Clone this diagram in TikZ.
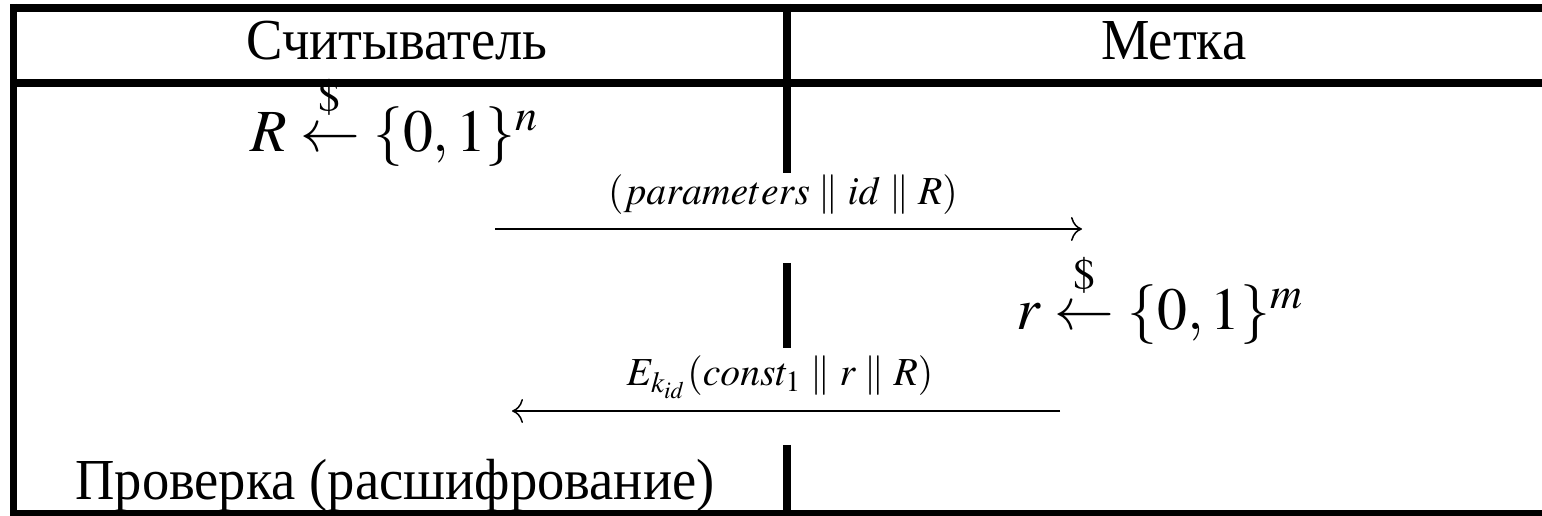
\documentclass[tikz,border=0pt]{standalone}
\usepackage{mathptmx}
\usepackage{fontspec}
\setmainfont[FakeStretch=0.94]{Liberation Serif}
\usetikzlibrary{arrows.meta}
\newcommand{\rnd}{\mathrel{\stackrel{\raisebox{0.25ex}{$\scriptstyle\$$}}{\leftarrow}}}
\begin{document}
\begin{tikzpicture}[x=0.01cm,y=-0.01cm,
  rule/.style={line width=0.075cm},
  msg/.style={line width=0.015cm, -{Computer Modern Rightarrow[length=0.11cm,width=0.24cm]}},
  txt/.style={inner sep=0pt, anchor=base, font=\fontsize{16.5}{20}\selectfont},
  frm/.style={inner sep=0pt, anchor=base, font=\fontsize{17}{20}\selectfont},
  lbl/.style={inner sep=0pt, anchor=base, font=\fontsize{11.3}{14}\selectfont}]
\useasboundingbox (0,0) rectangle (1542,516);
\clip (0,0) rectangle (1542,516);
% frame
\draw[rule] (10,8) -- (1560,8);
\draw[rule] (10,83) -- (1560,83);
\draw[rule] (10,514) -- (1560,514);
\draw[rule] (13.5,4) -- (13.5,520);
% lifeline between the two columns
\draw[rule] (787,4) -- (787,173);
\draw[rule] (787,263) -- (787,348);
\draw[rule] (787,445) -- (787,520);
% headers
\node[txt] (reader) at (397,60) {Считыватель};
\node[txt] (tag) at (1174,60) {Метка};
% steps
\node[frm] (genR) at (395,152) {$R \rnd \{0,1\}^n$};
\node[frm] (genr) at (1160,330) {$r \rnd \{0,1\}^m$};
\node[txt] (check) at (395,500) {Проверка (расшифрование)};
% messages
\coordinate (m1s) at (495,229);
\coordinate (m1e) at (1082,229);
\coordinate (m2s) at (1060,411);
\coordinate (m2e) at (512,411);
\draw[msg] (m1s) -- (m1e);
\draw[msg] (m2s) -- (m2e);
\node[lbl] (l1) at (783,205) {$(parameters \parallel id \parallel R)$};
\node[lbl] (l2) at (780,386) {$E_{k_{id}}(const_1 \parallel r \parallel R)$};
\end{tikzpicture}
\end{document}
